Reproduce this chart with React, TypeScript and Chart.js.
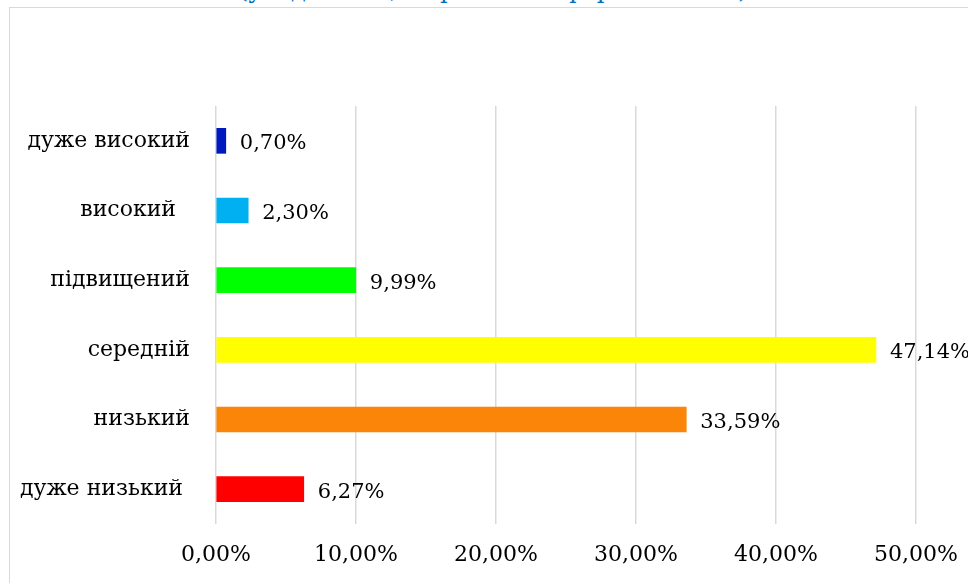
import React, { useEffect, useRef } from "react";
import { Chart, registerables } from "chart.js";

Chart.register(...registerables);

const titleText = "(у відсотках, за рівнями сформованості)";
const categories = ["дуже високий", "високий  ", "підвищений", "середній", "низький", "дуже низький "];
const values = [0.7, 2.3, 9.99, 47.14, 33.59, 6.27];
const barColors = ["#0019BF", "#00B0F0", "#00FF00", "#FFFF00", "#FA8508", "#FF0000"];
const xTicks = [0, 10, 20, 30, 40, 50];

const FONT = "'DejaVu Serif', 'Liberation Serif', serif";

const fmt = (v: number) => v.toFixed(2).replace(".", ",") + "%";

const labelPlugin = {
  id: "valueLabels",
  afterDatasetsDraw(chart: any) {
    const ctx = chart.ctx;
    const meta = chart.getDatasetMeta(0);
    ctx.save();
    ctx.font = `21px ${FONT}`;
    ctx.fillStyle = "#000";
    ctx.textAlign = "left";
    ctx.textBaseline = "middle";
    meta.data.forEach((bar: any, i: number) => {
      ctx.fillText(fmt(values[i]), bar.x + 14, bar.y + 3);
    });
    ctx.restore();
  },
};

export default function App() {
  const ref = useRef<HTMLCanvasElement>(null);
  useEffect(() => {
    document.body.style.margin = "0";
    document.body.style.overflow = "hidden";
    const chart = new Chart(ref.current!, {
      type: "bar",
      data: {
        labels: categories,
        datasets: [
          {
            data: values,
            backgroundColor: barColors,
            barThickness: 25,
            borderWidth: 0,
          },
        ],
      },
      options: {
        indexAxis: "y",
        animation: false,
        responsive: false,
        maintainAspectRatio: false,
        layout: { padding: { left: 10, right: 52, top: 106, bottom: 0 } },
        plugins: {
          legend: { display: false },
          tooltip: { enabled: false },
          title: { display: false },
        },
        scales: {
          x: {
            min: 0,
            max: 50,
            afterBuildTicks: (s: any) => {
              s.ticks = xTicks.map((v) => ({ value: v }));
            },
            afterFit: (s: any) => {
              s.height = 59;
              s.paddingLeft = 0;
              s.paddingRight = 0;
            },
            ticks: {
              callback: (v: any) => fmt(Number(v)),
              font: { family: FONT, size: 22 },
              color: "#000",
              padding: 18,
              maxRotation: 0,
            },
            grid: { color: "#d9d9d9", lineWidth: 1.5, drawTicks: false },
            border: { display: false },
          },
          y: {
            afterFit: (s: any) => {
              s.width = 206;
              s.paddingTop = 0;
              s.paddingBottom = 0;
            },
            ticks: {
              font: { family: FONT, size: 22 },
              color: "#000",
              padding: 26,
            },
            grid: { display: false, drawTicks: false },
            border: { display: false },
          },
        },
      },
      plugins: [labelPlugin],
    });
    return () => chart.destroy();
  }, []);

  return (
    <div style={{ position: "fixed", left: 0, top: 0, width: 968, height: 583, overflow: "hidden", background: "#fff" }}>
      <div
        style={{
          position: "absolute",
          left: 9,
          top: 7,
          width: 1100,
          height: 700,
          border: "1.5px solid #d9d9d9",
          boxSizing: "border-box",
        }}
      />
      <div
        style={{
          position: "absolute",
          left: 0,
          width: 986,
          top: -25,
          textAlign: "center",
          color: "#0070C0",
          fontFamily: FONT,
          fontSize: 24,
          lineHeight: "30px",
          whiteSpace: "nowrap",
        }}
      >
        {titleText}
      </div>
      <canvas ref={ref} width={968} height={583} style={{ position: "absolute", left: 0, top: 0 }} />
    </div>
  );
}
